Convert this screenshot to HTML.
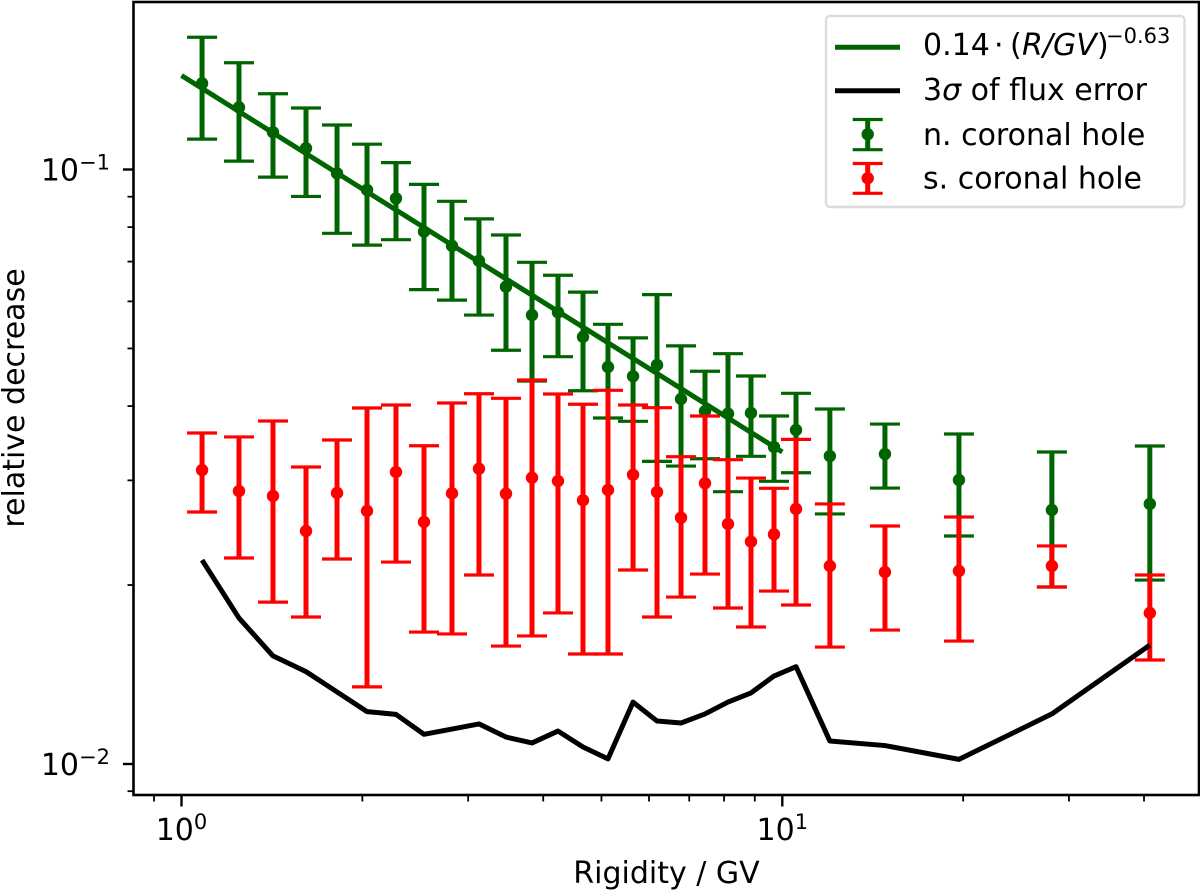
<!DOCTYPE html>
<html>
<head>
<meta charset="utf-8">
<title>Relative decrease vs rigidity</title>
<style>
html,body{margin:0;padding:0;background:#fff;width:1200px;height:890px;overflow:hidden}
svg{display:block}
text{font-family:"DejaVu Sans","Liberation Sans",sans-serif;fill:#000}
</style>
</head>
<body>
<svg id="chart" xmlns="http://www.w3.org/2000/svg" width="1200" height="890" viewBox="0 0 1200 890">
  <rect x="0" y="0" width="1200" height="890" fill="#fff"/>
  <g id="ticks"></g>
  <g id="marks"></g>
  <rect x="133.5" y="2" width="1065.5" height="793" fill="none" stroke="#000" stroke-width="2.6"/>
  <text x="666.5" y="883" font-size="30" text-anchor="middle">Rigidity / GV</text>
  <text transform="translate(24,398) rotate(-90)" font-size="30" text-anchor="middle">relative decrease</text>
  <g>
    <rect x="826" y="16" width="358.5" height="191" rx="4" ry="4" fill="#fff" stroke="#dcdcdc" stroke-width="2.4"/>
    <g>
      <line x1="835" x2="900" y1="47.3" y2="47.3" stroke="#006400" stroke-width="5"/>
      <text y="55" font-size="30"><tspan x="923">0.14</tspan><tspan x="994">·</tspan><tspan x="1010">(</tspan><tspan x="1022" font-style="italic">R/GV</tspan><tspan x="1097">)</tspan><tspan x="1106" font-size="21" dy="-12">−0.63</tspan></text>
    </g>
    <g>
      <line x1="835" x2="900" y1="90.7" y2="90.7" stroke="#000" stroke-width="5"/>
      <text y="100" font-size="30"><tspan x="923">3</tspan><tspan font-style="italic">σ</tspan><tspan> of flux error</tspan></text>
    </g>
    <g>
      <line x1="867.7" x2="867.7" y1="119" y2="150" stroke="#006400" stroke-width="5"/>
      <line x1="852.7" x2="882.7" y1="119.5" y2="119.5" stroke="#006400" stroke-width="3.2"/>
      <line x1="852.7" x2="882.7" y1="149.7" y2="149.7" stroke="#006400" stroke-width="3.2"/>
      <circle cx="867.7" cy="134.3" r="6.2" fill="#006400"/>
      <text x="923" y="145" font-size="30">n. coronal hole</text>
    </g>
    <g>
      <line x1="867.7" x2="867.7" y1="163" y2="193.5" stroke="#ff0000" stroke-width="5"/>
      <line x1="852.7" x2="882.7" y1="163.5" y2="163.5" stroke="#ff0000" stroke-width="3.2"/>
      <line x1="852.7" x2="882.7" y1="193.3" y2="193.3" stroke="#ff0000" stroke-width="3.2"/>
      <circle cx="867.7" cy="178.3" r="6.2" fill="#ff0000"/>
      <text x="923" y="188.3" font-size="30">s. coronal hole</text>
    </g>
  </g>
</svg>
<script>
const rigidity = [1.082,1.2465,1.420,1.6115,1.815,2.036,2.275,2.533,2.820,3.127,3.468,3.832,4.233,4.659,5.127,5.644,6.187,6.783,7.436,8.121,8.869,9.687,10.54,12.0,14.82,19.68,28.1,40.9];

const northValue = [0.1396,0.1272,0.1155,0.1086,0.0985,0.0924,0.0894,0.0786,0.0744,0.0702,0.0635,0.0569,0.0575,0.0523,0.04654,0.04489,0.0469,0.04111,0.0392,0.03884,0.03894,0.03413,0.03646,0.03296,0.03322,0.03004,0.02675,0.02738];
const northUpper = [0.1669,0.1512,0.1341,0.1269,0.1188,0.1103,0.1027,0.0944,0.0884,0.0826,0.0776,0.0698,0.0664,0.0622,0.0549,0.0521,0.0616,0.0505,0.04577,0.0490,0.04494,0.03849,0.04203,0.03955,0.03731,0.0359,0.03348,0.03427];
const northLower = [0.1125,0.1033,0.0971,0.0901,0.0781,0.0746,0.0762,0.0628,0.0603,0.0569,0.04965,0.04408,0.04843,0.04245,0.03819,0.03771,0.03229,0.03171,0.03262,0.02871,0.03293,0.02989,0.0309,0.02634,0.02912,0.02418,0.01985,0.02039];

const southValue = [0.03122,0.02878,0.02824,0.02466,0.02857,0.02665,0.03098,0.02553,0.02853,0.03138,0.02849,0.03031,0.02992,0.02777,0.0289,0.03066,0.02867,0.02596,0.02966,0.02533,0.02366,0.02434,0.02685,0.02153,0.02103,0.02112,0.02153,0.01795];
const southUpper = [0.03604,0.03549,0.03775,0.03159,0.03507,0.0397,0.04017,0.0343,0.04048,0.04196,0.04122,0.04425,0.04192,0.04028,0.04252,0.04017,0.03975,0.03288,0.03849,0.0325,0.03027,0.02909,0.03516,0.02738,0.02514,0.02603,0.02327,0.02079];
const southLower = [0.02654,0.02221,0.01872,0.01767,0.02212,0.01348,0.02186,0.01667,0.01655,0.02079,0.01579,0.01642,0.01795,0.01531,0.01531,0.0212,0.01767,0.01909,0.02087,0.0183,0.017,0.01954,0.01851,0.01573,0.0168,0.0161,0.01985,0.01496];

const fluxError = [0.02203,0.0176,0.0152,0.0143,0.01322,0.01225,0.01212,0.01122,0.01145,0.01168,0.0111,0.01085,0.01136,0.01068,0.0102,0.01271,0.01181,0.01172,0.01214,0.01271,0.01317,0.01406,0.01458,0.01093,0.01074,0.01018,0.01214,0.01585];

const fitRigidity = [1, 10];
const fitValue = [0.1439, 0.03348];

const xMajorTicks = [1, 10];
const xMajorExponents = ['0', '1'];
const xMinorTicks = [0.9,2,3,4,5,6,7,8,9,20,30,40];
const yMajorTicks = [0.1, 0.01];
const yMajorExponents = ['−1', '−2'];
const yMinorTicks = [0.009,0.02,0.03,0.04,0.05,0.06,0.07,0.08,0.09];

const SVG_NS = 'http://www.w3.org/2000/svg';
function xScale(r) { return 181.5 + 600.8 * Math.log10(r); }
function yScale(v) { return 169.5 - 594.5 * (Math.log10(v) + 1); }
function make(parent, tag, attrs) {
  const el = document.createElementNS(SVG_NS, tag);
  for (const k in attrs) el.setAttribute(k, attrs[k]);
  parent.appendChild(el);
  return el;
}

const ticksLayer = document.getElementById('ticks');
const marksLayer = document.getElementById('marks');

xMajorTicks.forEach(function (t, i) {
  const x = xScale(t);
  const tick = make(ticksLayer, 'line', {x1: x, x2: x, y1: 795, y2: 806.5, stroke: '#000', 'stroke-width': 2.4});
  
  
  const label = make(ticksLayer, 'text', {x: x, y: 840, 'font-size': 30, 'text-anchor': 'middle'});
  
  
  label.appendChild(document.createTextNode('10'));
  const sup = make(label, 'tspan', {'font-size': 21, dy: -11});
  sup.textContent = xMajorExponents[i];
});
xMinorTicks.forEach(function (t) {
  const x = xScale(t);
  const tick = make(ticksLayer, 'line', {x1: x, x2: x, y1: 795, y2: 801.5, stroke: '#000', 'stroke-width': 1.8});
  
  
});
yMajorTicks.forEach(function (t, i) {
  const y = yScale(t);
  const tick = make(ticksLayer, 'line', {x1: 123, x2: 133.5, y1: y, y2: y, stroke: '#000', 'stroke-width': 2.4});
  
  
  const label = make(ticksLayer, 'text', {x: 110, y: y + 11, 'font-size': 30, 'text-anchor': 'end'});
  
  
  label.appendChild(document.createTextNode('10'));
  const sup = make(label, 'tspan', {'font-size': 21, dy: -11});
  sup.textContent = yMajorExponents[i];
});
yMinorTicks.forEach(function (t) {
  const y = yScale(t);
  const tick = make(ticksLayer, 'line', {x1: 127.5, x2: 133.5, y1: y, y2: y, stroke: '#000', 'stroke-width': 1.8});
  
  
});

function drawSeries(prefix, color, values, upper, lower) {
  const group = make(marksLayer, 'g', {});
  
  
  rigidity.forEach(function (r, i) {
    const x = xScale(r);
    const yTop = yScale(upper[i]);
    const yBot = yScale(lower[i]);
    const yMid = yScale(values[i]);
    const stem = make(group, 'line', {x1: x, x2: x, y1: yTop, y2: yBot, stroke: color, 'stroke-width': 5});
    
    
    const capTop = make(group, 'line', {x1: x - 15, x2: x + 15, y1: yTop, y2: yTop, stroke: color, 'stroke-width': 3.2});
    
    
    const capBot = make(group, 'line', {x1: x - 15, x2: x + 15, y1: yBot, y2: yBot, stroke: color, 'stroke-width': 3.2});
    
    
    const dot = make(group, 'circle', {cx: x, cy: yMid, r: 6.2, fill: color});
    
    
  });
}
drawSeries('north-coronal-hole', '#006400', northValue, northUpper, northLower);
drawSeries('south-coronal-hole', '#ff0000', southValue, southUpper, southLower);

const fitPoints = fitRigidity.map(function (r, i) { return xScale(r) + ',' + yScale(fitValue[i]); }).join(' ');
const fitLine = make(marksLayer, 'polyline', {points: fitPoints, fill: 'none', stroke: '#006400', 'stroke-width': 5});



const errorPoints = rigidity.map(function (r, i) { return xScale(r) + ',' + yScale(fluxError[i]); }).join(' ');
const errorLine = make(marksLayer, 'polyline', {points: errorPoints, fill: 'none', stroke: '#000', 'stroke-width': 5, 'stroke-linejoin': 'round'});


</script>
</body>
</html>
